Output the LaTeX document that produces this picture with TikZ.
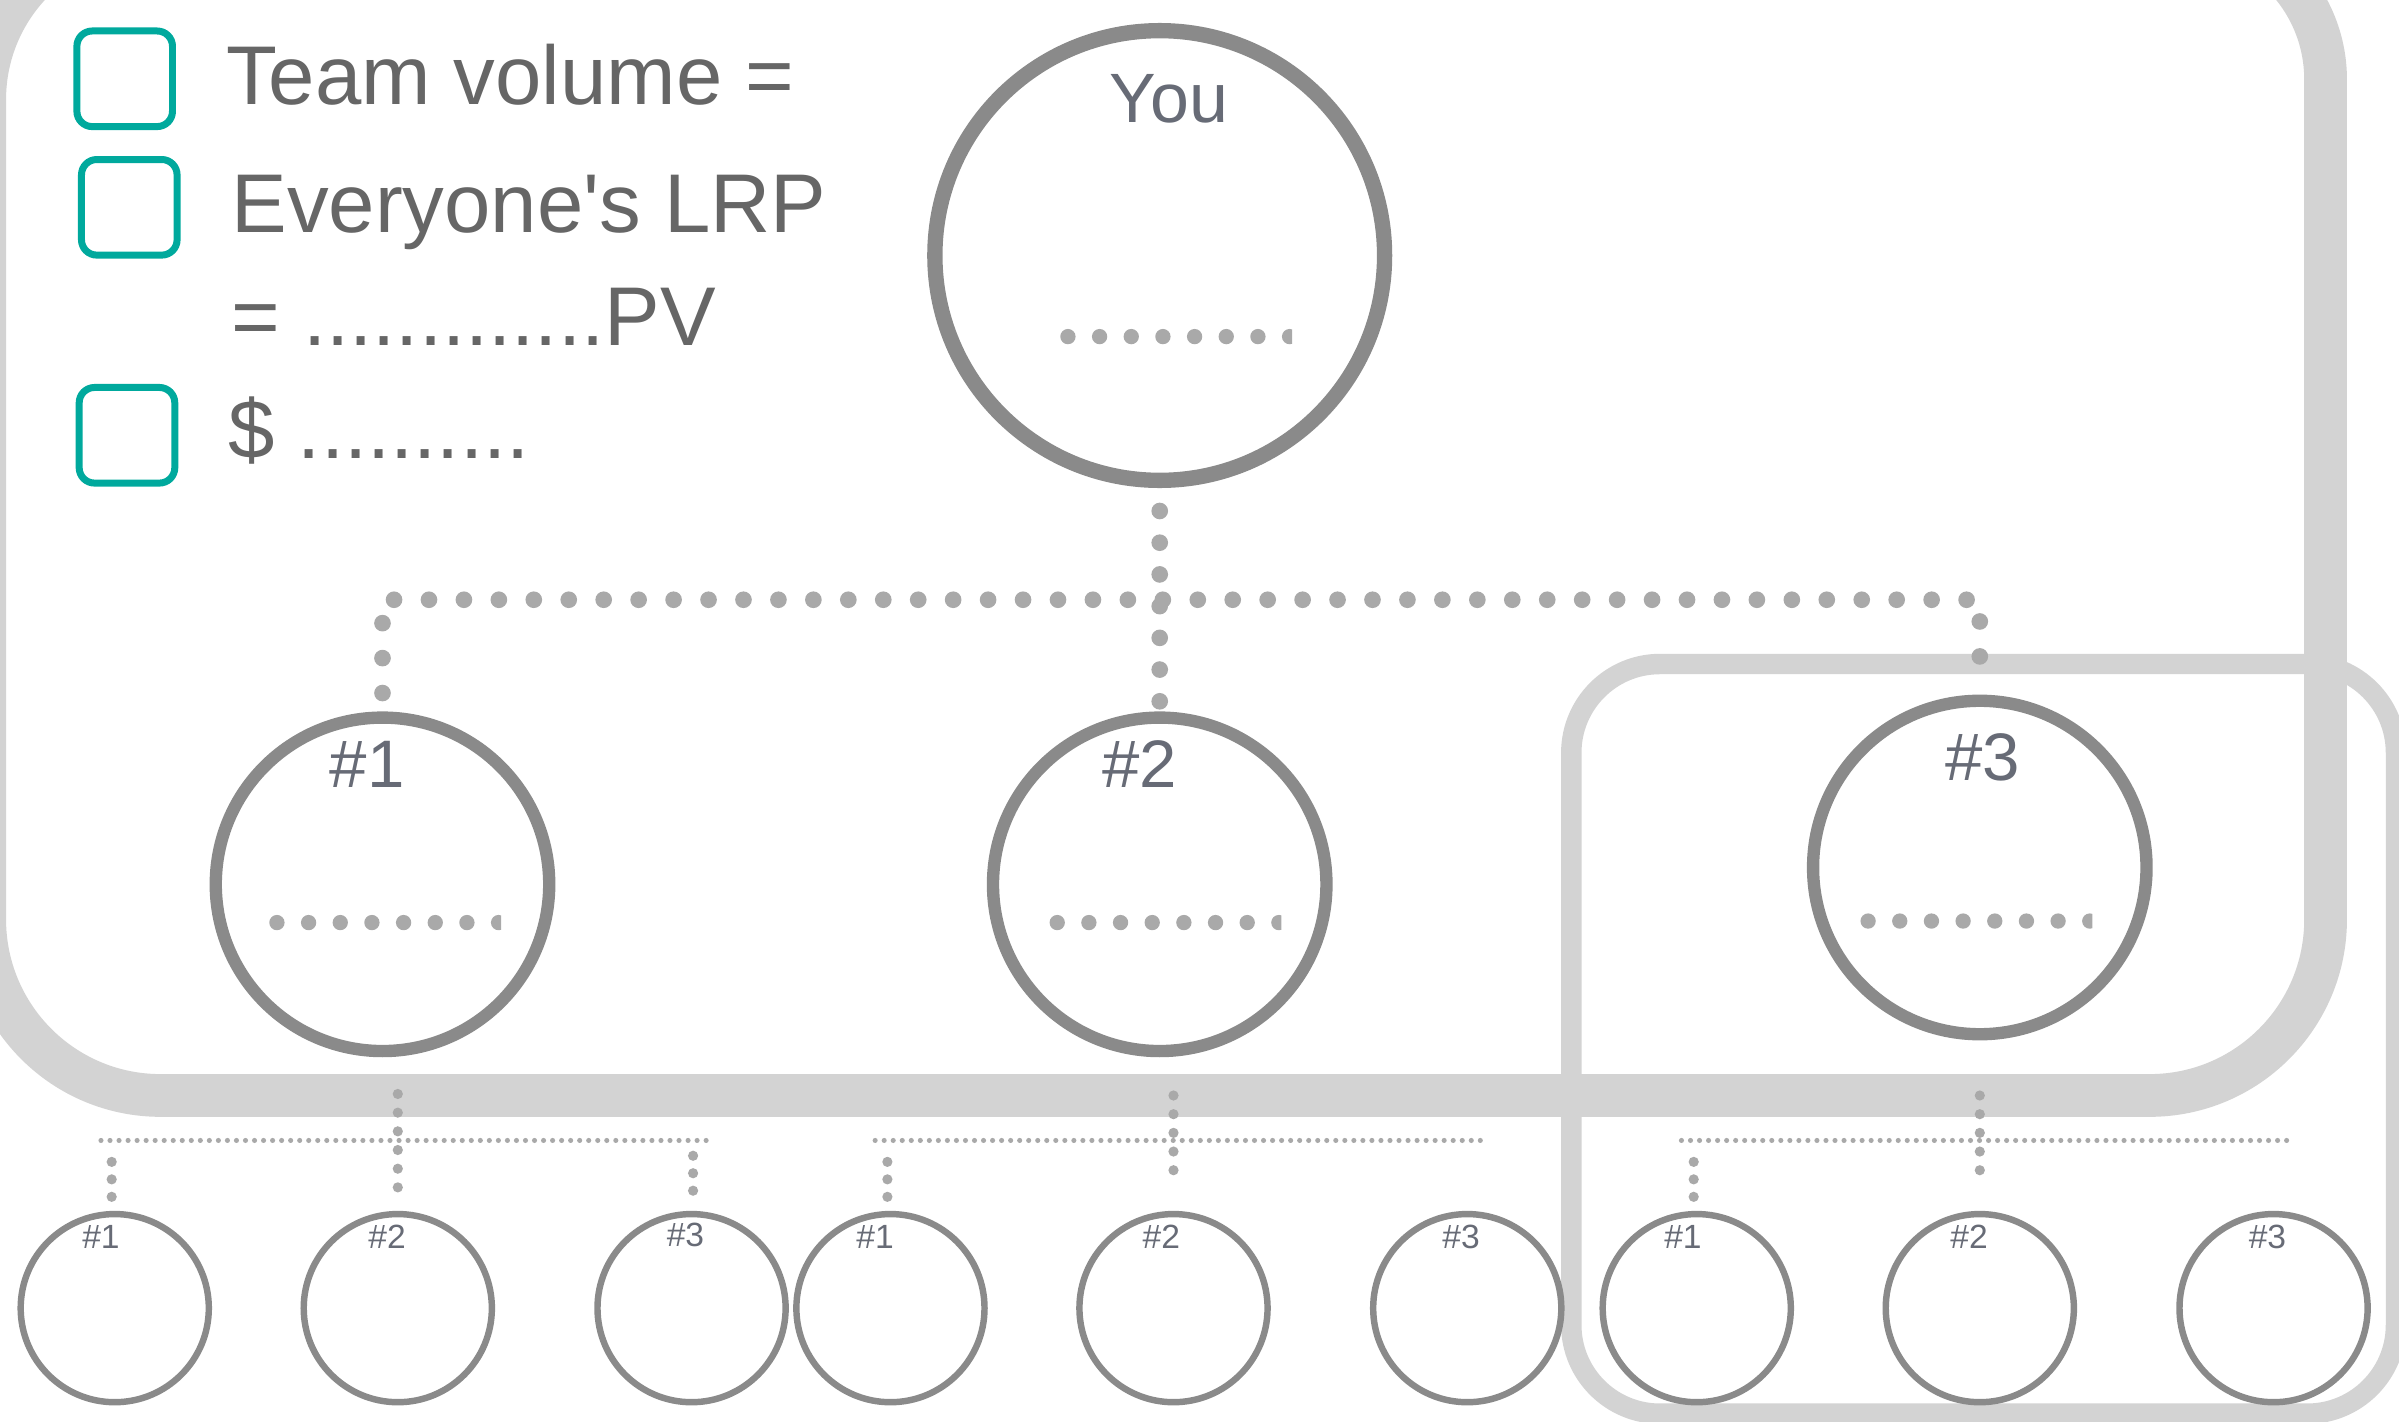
\documentclass[tikz,border=0pt]{standalone}
\usepackage{fontspec}
\setmainfont{Liberation Sans}
\usetikzlibrary{calc}
\definecolor{framec}{HTML}{D3D3D3}
\definecolor{ringc}{HTML}{8A8A8A}
\definecolor{dotc}{HTML}{A9A9A9}
\definecolor{txtc}{HTML}{666666}
\definecolor{labc}{HTML}{676B76}
\definecolor{tealc}{HTML}{00A99D}
\begin{document}
\begin{tikzpicture}[x=0.02cm,y=-0.02cm,
  frameA/.style={draw=framec,line width=15.9pt},
  frameB/.style={draw=framec,line width=7.6pt},
  youring/.style={circle,draw=ringc,line width=5.7pt,inner sep=0pt,minimum size=5.88cm},
  onering/.style={circle,draw=ringc,line width=4.6pt,inner sep=0pt,minimum size=4.36cm},
  tworing/.style={circle,draw=ringc,line width=2.4pt,inner sep=0pt,minimum size=2.46cm},
  chk/.style={rectangle,draw=tealc,line width=2.6pt,rounded corners=5.7pt,inner sep=0pt,minimum width=1.25cm,minimum height=1.25cm},
  bigtxt/.style={inner sep=0pt,anchor=base west,text=txtc,font=\fontsize{31}{36}\selectfont},
  youlab/.style={inner sep=0pt,anchor=base,text=labc,font=\fontsize{26}{30}\selectfont},
  onelab/.style={inner sep=0pt,anchor=base,text=labc,font=\fontsize{25}{30}\selectfont},
  twolab/.style={inner sep=0pt,anchor=base,text=labc,font=\fontsize{12.5}{15}\selectfont},
  bigdots/.style={draw=dotc,line width=6.2pt,line cap=round,dash pattern=on 0pt off 13pt},
  youdots/.style={draw=dotc,line width=6.2pt,line cap=round,dash pattern=on 0pt off 11.8pt},
  rowdots/.style={draw=dotc,line width=5.7pt,line cap=round,dash pattern=on 0pt off 11.78pt},
  middots/.style={draw=dotc,line width=3.8pt,line cap=round,dash pattern=on 0pt off 6.95pt},
  kiddots/.style={draw=dotc,line width=3.8pt,line cap=round,dash pattern=on 0pt off 6.5pt},
  thindots/.style={draw=dotc,line width=1.9pt,line cap=round,dash pattern=on 0pt off 3.36pt}]
\useasboundingbox (0,0) rectangle (1568,929);
\clip (0,0) rectangle (1568,929);

% frames
\draw[frameB] (1027,492) arc[start angle=180,end angle=270,radius=58] -- (1508,434)
  arc[start angle=270,end angle=360,radius=58] -- (1566,866)
  arc[start angle=0,end angle=90,radius=58] -- (1085,924)
  arc[start angle=90,end angle=180,radius=58] -- cycle;
\draw[frameA] (-10,601) -- (-10,65) arc[start angle=180,end angle=270,radius=110] -- (1423,-45)
  arc[start angle=270,end angle=360,radius=97] -- (1520,601)
  arc[start angle=0,end angle=90,radius=115] -- (105,716)
  arc[start angle=90,end angle=180,radius=115] -- cycle;

% checkboxes and text
\node[chk] (c1) at (81.5,51.5) {};
\node[chk] (c2) at (84.5,135.5) {};
\node[chk] (c3) at (83,284.5) {};
\node[bigtxt] (t1) at (148,68) {Team volume =};
\node[bigtxt] (t2) at (151,152) {Everyone\textquotesingle s LRP};
\node[bigtxt] (t3) at (151,226) {= .............PV};
\node[bigtxt] (t4) at (149,300) {\$ ..........};

% circles
\node[youring] (You) at (758,167) {};
\node[onering] (L11) at (250,578) {};
\node[onering] (L12) at (758,578) {};
\node[onering] (L13) at (1294,567) {};
\node[tworing] (L21) at (75,855) {};
\node[tworing] (L22) at (260,855) {};
\node[tworing] (L23) at (452,855) {};
\node[tworing] (L24) at (582,855) {};
\node[tworing] (L25) at (767,855) {};
\node[tworing] (L26) at (959,855) {};
\node[tworing] (L27) at (1109,855) {};
\node[tworing] (L28) at (1294,855) {};
\node[tworing] (L29) at (1486,855) {};

% labels
\node[youlab] (tyou) at ($(You)+(6,-87)$) {You};
\node[onelab] (t11) at ($(L11)+(-10,-63)$) {\#1};
\node[onelab] (t12) at ($(L12)+(-13,-63)$) {\#2};
\node[onelab] (t13) at ($(L13)+(2,-57)$) {\#3};
\node[twolab] (t21) at ($(L21)+(-9,-39)$) {\#1};
\node[twolab] (t22) at ($(L22)+(-7,-39)$) {\#2};
\node[twolab] (t23) at ($(L23)+(-4,-40)$) {\#3};
\node[twolab] (t24) at ($(L24)+(-10,-39)$) {\#1};
\node[twolab] (t25) at ($(L25)+(-8,-39)$) {\#2};
\node[twolab] (t26) at ($(L26)+(-4,-39)$) {\#3};
\node[twolab] (t27) at ($(L27)+(-9,-39)$) {\#1};
\node[twolab] (t28) at ($(L28)+(-7,-39)$) {\#2};
\node[twolab] (t29) at ($(L29)+(-4,-39)$) {\#3};

% fill-in dotted rows
\begin{scope}
\clip ($(You)+(-72,40)$) rectangle ($(You)+(86.5,66)$);
\draw[rowdots] ($(You)+(-60,53)$) -- ($(You)+(95,53)$);
\end{scope}
\begin{scope}
\clip ($(L11)+(-80,12)$) rectangle ($(L11)+(77.5,38)$);
\draw[rowdots] ($(L11)+(-69,25)$) -- ($(L11)+(85,25)$);
\end{scope}
\begin{scope}
\clip ($(L12)+(-80,12)$) rectangle ($(L12)+(79.5,38)$);
\draw[rowdots] ($(L12)+(-67,25)$) -- ($(L12)+(87,25)$);
\end{scope}
\begin{scope}
\clip ($(L13)+(-85,22)$) rectangle ($(L13)+(73.5,48)$);
\draw[rowdots] ($(L13)+(-73,35)$) -- ($(L13)+(81,35)$);
\end{scope}

% connectors level 0 -> 1
\coordinate (hub) at (758,392);
\draw[youdots] ($(You.south)+(0,15)$) -- ($(L12.north)+(0,-6)$);
\draw[bigdots] ($(L11.north)+(0,-12)$) |- (hub) -| ($(L13.north)+(0,-11)$);

% connectors level 1 -> 2
\draw[middots] ($(L11.south -| L22.north)+(0,24)$) -- ($(L22.north)+(0,-15)$);
\draw[middots] ($(L12.south -| L25.north)+(0,25)$) -- ($(L25.north)+(0,-15)$);
\draw[middots] ($(L13.south -| L28.north)+(0,36)$) -- ($(L28.north)+(0,-15)$);
\draw[thindots] ($(L21.north)+(-9,-46)$) -- ($(L23.north)+(10,-46)$);
\draw[thindots] ($(L24.north)+(-10,-46)$) -- ($(L26.north)+(9,-46)$);
\draw[thindots] ($(L27.north)+(-10,-46)$) -- ($(L29.north)+(10,-46)$);
\draw[kiddots] ($(L21.north)+(-2,-32)$) -- ($(L21.north)+(-2,-8.8)$);
\draw[kiddots] ($(L23.north)+(1,-36)$) -- ($(L23.north)+(1,-12.8)$);
\draw[kiddots] ($(L24.north)+(-2,-32)$) -- ($(L24.north)+(-2,-8.8)$);
\draw[kiddots] ($(L27.north)+(-2,-32)$) -- ($(L27.north)+(-2,-8.8)$);
\end{tikzpicture}
\end{document}
